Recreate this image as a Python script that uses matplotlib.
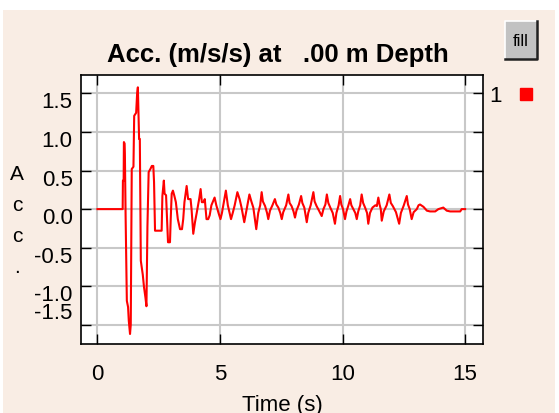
import matplotlib
matplotlib.use('Agg')
import matplotlib.pyplot as plt
from matplotlib.patches import Rectangle
from matplotlib.lines import Line2D
import matplotlib.transforms as mtransforms

# acceleration record
time_s = [0.00, 1.03, 1.04, 1.07, 1.08, 1.11, 1.12, 1.15, 1.20, 1.25, 1.28, 1.33, 1.36,
          1.40, 1.47, 1.50, 1.58, 1.62, 1.65, 1.70, 1.73, 1.77, 1.85, 1.90, 1.96, 2.00,
          2.04, 2.09, 2.16, 2.22, 2.28, 2.31, 2.35, 2.62, 2.65, 2.71, 2.74, 2.80, 2.84,
          2.88, 2.96, 2.99, 3.03, 3.08, 3.14, 3.20, 3.28, 3.37, 3.45, 3.50, 3.55, 3.64,
          3.70, 3.80, 3.84, 3.91, 3.98, 4.05, 4.15, 4.21, 4.26, 4.33, 4.38, 4.45, 4.52,
          4.58, 4.65, 4.78, 4.85, 4.95, 5.02, 5.08, 5.18, 5.24, 5.32, 5.45, 5.52, 5.60,
          5.71, 5.80, 5.88, 5.99, 6.10, 6.20, 6.28, 6.36, 6.48, 6.56, 6.64,
          6.70, 6.75, 6.84, 6.92, 6.97, 7.04, 7.14, 7.24, 7.30, 7.38, 7.46, 7.52,
          7.58, 7.70, 7.79, 7.84, 7.92, 8.00, 8.06, 8.12, 8.22, 8.31, 8.36, 8.44, 8.54,
          8.60, 8.70, 8.81, 8.86, 8.94, 9.04, 9.15, 9.22, 9.30, 9.36, 9.42, 9.50, 9.60,
          9.69, 9.75, 9.84, 9.90, 9.95, 10.02, 10.10, 10.16, 10.24, 10.31, 10.36, 10.44,
          10.52, 10.58, 10.64, 10.72, 10.78, 10.84, 10.92, 11.00, 11.05, 11.12, 11.22,
          11.34, 11.40, 11.46, 11.51, 11.56, 11.60, 11.68, 11.80, 11.91, 11.97, 12.05,
          12.18, 12.31, 12.38, 12.50, 12.62, 12.67, 12.74, 12.82, 12.90, 13.03, 13.10,
          13.16, 13.30, 13.44, 13.57, 13.78, 13.91, 14.11, 14.25, 14.39, 14.80, 14.86,
          15.00]
acc = [0.00, 0.00, 0.37, 0.37, 0.87, 0.85, 0.72, -0.09, -1.19, -1.27, -1.45, -1.62, -1.50,
       0.52, 0.55, 1.21, 1.25, 1.50, 1.58, 0.91, 0.91, -0.67, -0.85, -1.01, -1.15, -1.26,
       -0.23, 0.48, 0.52, 0.56, 0.56, 0.35, -0.28, -0.28, 0.17, 0.37, 0.20, 0.18, -0.13,
       -0.43, -0.43, -0.13, 0.20, 0.24, 0.17, 0.09, -0.13, -0.26, -0.26, -0.13, 0.09, 0.30,
       0.13, 0.13, 0.00, -0.32, -0.17, -0.05, 0.13, 0.26, 0.09, 0.09, 0.13, -0.13, -0.13,
       -0.08, 0.05, 0.15, 0.05, -0.06, -0.13, -0.05, 0.13, 0.24, 0.05, -0.13, -0.05, 0.05,
       0.22, 0.13, 0.02, -0.17, 0.02, 0.19, 0.10, 0.02, -0.26, -0.05, 0.05,
       0.22, 0.10, 0.04, -0.05, -0.13, -0.02, 0.05, 0.13, 0.06, 0.02, -0.05, -0.13,
       -0.04, 0.05, 0.19, 0.08, 0.04, -0.03, -0.11, -0.02, 0.06, 0.17, 0.08, 0.02, -0.17,
       -0.05, 0.05, 0.22, 0.10, 0.04, -0.02, -0.09, 0.00, 0.06, 0.19, 0.08, 0.02, -0.05,
       -0.19, -0.05, 0.05, 0.17, 0.06, 0.00, -0.13, -0.03, 0.05, 0.13, 0.05, 0.00,
       -0.05, -0.13, -0.03, 0.05, 0.19, 0.08, 0.02, -0.05, -0.19, -0.05, 0.02,
       0.05, 0.04, 0.15, 0.06, 0.00, -0.15, -0.03, 0.05, 0.19, 0.08, 0.04,
       -0.04, -0.19, -0.05, 0.05, 0.17, 0.06, 0.00, -0.13, -0.04, 0.00, 0.05,
       0.06, 0.03, -0.02, -0.03, -0.03, 0.00, 0.02, -0.02, -0.03, -0.03, 0.00,
       0.00]

x_ticks = [0, 5, 10, 15]
y_ticks = [-1.5, -1.0, -0.5, 0.0, 0.5, 1.0, 1.5]
y_tick_labels = ['-1.5', '-1.0', '-0.5', '0.0', '0.5', '1.0', '1.5']
series_names = ['1']

bg = '#f9ede4'
plt.rcParams['font.family'] = ['Liberation Sans', 'DejaVu Sans']

W, H = 559, 414
fig = plt.figure(figsize=(W / 100, H / 100), dpi=100)
fig.patch.set_facecolor('white')
fig.add_artist(Rectangle((3 / W, 0), 552 / W, 403 / H, transform=fig.transFigure,
                         facecolor=bg, edgecolor='none', zorder=-10))

ax = fig.add_axes([81 / W, 69 / H, 402 / W, 269 / H])
ax.plot(time_s, acc, color='red', lw=1.5)
ax.set_xlim(-0.67, 15.73)
ax.set_ylim(-1.75, 1.74)
ax.set_xticks(x_ticks)
ax.set_yticks(y_ticks)
ax.set_yticklabels(y_tick_labels)
ax.grid(True, color='#c8c8c8', lw=1.5)
ax.set_axisbelow(True)
ax.tick_params(direction='in', length=7, width=1, top=True, right=True, labelsize=16)
ax.tick_params(axis='x', pad=14)
ax.tick_params(axis='y', pad=6)
for s in ax.spines.values():
    s.set_linewidth(1.2)

# y tick labels sit a little below their ticks, the last one is squeezed up
for tk, val in zip(ax.yaxis.get_major_ticks(), y_ticks):
    dy = -6 if val > -1.5 else 15
    off = mtransforms.ScaledTranslation(0, dy / 100, fig.dpi_scale_trans)
    tk.label1.set_transform(tk.label1.get_transform() + off)

fig.text(278 / W, 1 - 55 / H, 'Acc. (m/s/s) at   .00 m Depth', ha='center', va='center',
         fontsize=18.5, fontweight='bold')
fig.text(282 / W, 1 - 406 / H, 'Time (s)', ha='center', va='center', fontsize=16)
fig.text(17 / W, 1 - 221 / H, 'A\nc\nc\n.', ha='center', va='center', fontsize=15,
         linespacing=1.8)

ax.legend(handles=[Line2D([], [], color='red', marker='s', linestyle='none', markersize=8)],
          labels=series_names, markerfirst=False, frameon=False, loc='center',
          bbox_to_anchor=(513 / W, 1 - 97 / H), bbox_transform=fig.transFigure,
          fontsize=16, handletextpad=0.6, handlelength=1)

# "fill" button
bx0, by0, bx1, by1 = 505, 22, 537, 60
fig.add_artist(Rectangle((bx0 / W, 1 - by1 / H), (bx1 - bx0) / W, (by1 - by0) / H,
                         transform=fig.transFigure, facecolor='#c2c2c2', edgecolor='none'))
fig.add_artist(Line2D([bx0 / W, bx0 / W, bx1 / W], [1 - by1 / H, 1 - by0 / H, 1 - by0 / H],
                      transform=fig.transFigure, color='white', lw=1.2))
fig.add_artist(Line2D([bx0 / W, bx1 / W, bx1 / W], [1 - by1 / H, 1 - by1 / H, 1 - by0 / H],
                      transform=fig.transFigure, color='#202020', lw=1.8))
fig.text((bx0 + bx1) / 2 / W, 1 - (by0 + by1) / 2 / H, 'fill', ha='center', va='center',
         fontsize=12)

fig.savefig('out.png', dpi=100, facecolor=fig.get_facecolor())
